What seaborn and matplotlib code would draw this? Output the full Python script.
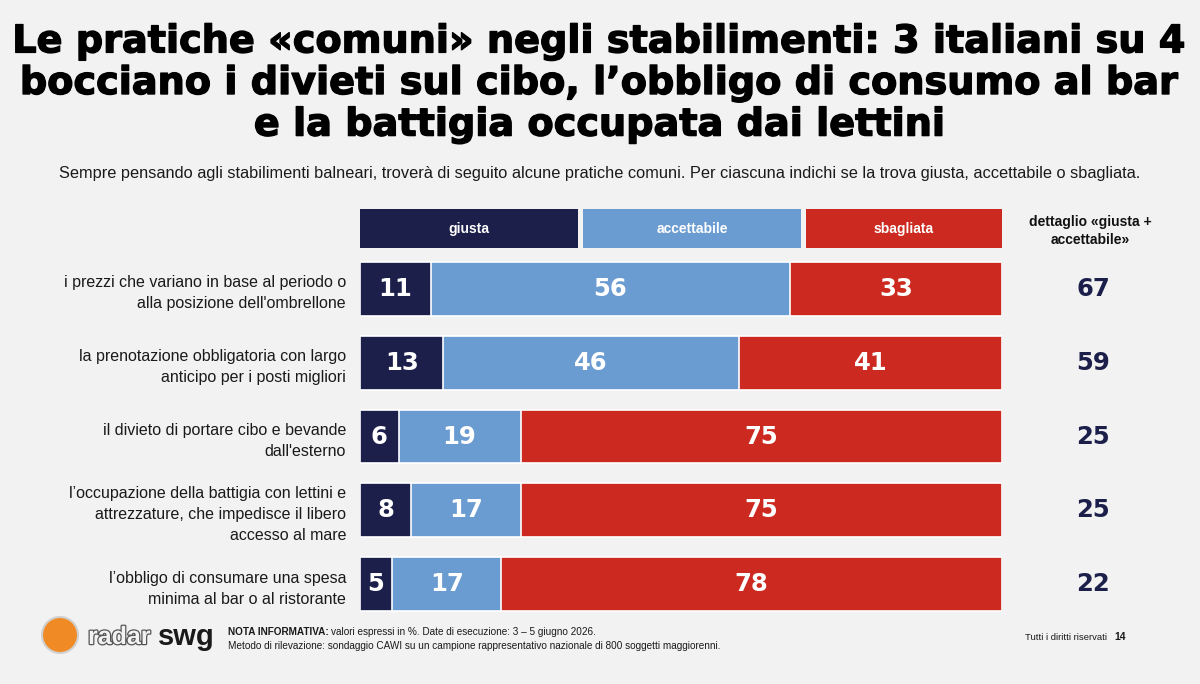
import matplotlib
matplotlib.use("Agg")
import matplotlib.pyplot as plt
import matplotlib.transforms as mtrans
import matplotlib.patheffects as pe
import seaborn as sns
import pandas as pd
from matplotlib.patches import Rectangle, Ellipse

categories = [
    "i prezzi che variano in base al periodo o\nalla posizione dell'ombrellone",
    "la prenotazione obbligatoria con largo\nanticipo per i posti migliori",
    "il divieto di portare cibo e bevande\ndall'esterno",
    "l\u2019occupazione della battigia con lettini e\nattrezzature, che impedisce il libero\naccesso al mare",
    "l\u2019obbligo di consumare una spesa\nminima al bar o al ristorante",
]
giusta = [11, 13, 6, 8, 5]
accettabile = [56, 46, 19, 17, 17]
sbagliata = [33, 41, 75, 75, 78]
dettaglio = [67, 59, 25, 25, 22]
series_names = ["giusta", "accettabile", "sbagliata"]

NAVY = "#1c1f4a"
BLUE = "#6a9bd1"
RED = "#cc2a20"
BG = "#f2f2f2"

sns.set_theme(style="white")
plt.rcParams["font.family"] = ["Liberation Sans", "DejaVu Sans"]

W, H = 1200, 684
fig = plt.figure(figsize=(W / 100, H / 100), dpi=100, facecolor=BG)

def fx(px):
    return px / W

def fy(py):
    return 1 - py / H

ax = fig.add_axes([fx(360), fy(621), fx(1002) - fx(360), (621 - 252) / H])
ax.set_facecolor(BG)

df = pd.DataFrame({
    "cat": categories,
    "giusta": giusta,
    "accettabile": accettabile,
    "sbagliata": sbagliata,
})
df["cum2"] = df["giusta"] + df["accettabile"]
df["cum3"] = df["cum2"] + df["sbagliata"]

bw = 0.73
sns.barplot(data=df, y="cat", x="cum3", color=RED, orient="h", width=bw,
            edgecolor="white", linewidth=1.2, saturation=1, ax=ax)
sns.barplot(data=df, y="cat", x="cum2", color=BLUE, orient="h", width=bw,
            edgecolor="white", linewidth=1.2, saturation=1, ax=ax)
sns.barplot(data=df, y="cat", x="giusta", color=NAVY, orient="h", width=bw,
            edgecolor="white", linewidth=1.2, saturation=1, ax=ax)

ax.set_xlim(0, 100)
ax.set_ylim(len(categories) - 0.5, -0.5)
for s in ax.spines.values():
    s.set_visible(False)
ax.set_xlabel("")
ax.set_ylabel("")
ax.set_xticks([])
ax.tick_params(axis="y", length=0, pad=10)
for lab in ax.get_yticklabels():
    lab.set_fontsize(11.5)
    lab.set_color("#1a1a1a")
    lab.set_multialignment("right")
    lab.set_linespacing(1.5)

# segment labels
for i in range(len(categories)):
    starts = [0, giusta[i], giusta[i] + accettabile[i]]
    vals = [giusta[i], accettabile[i], sbagliata[i]]
    for st, v in zip(starts, vals):
        ax.text(st + v / 2, i, f"{v}", ha="center", va="center", color="white",
                fontsize=17.5, fontweight="bold", family=["DejaVu Sans"])

# right column values
trans = mtrans.blended_transform_factory(fig.transFigure, ax.transData)
for i, d in enumerate(dettaglio):
    ax.text(fx(1093), i, f"{d}", transform=trans, ha="center", va="center",
            color=NAVY, fontsize=17.5, fontweight="bold", family=["DejaVu Sans"])

# legend boxes
boxes = [(360, 578, NAVY), (583, 801, BLUE), (806, 1002, RED)]
for (x0, x1, c), name in zip(boxes, series_names):
    fig.add_artist(Rectangle((fx(x0), fy(248)), fx(x1) - fx(x0), (248 - 209) / H,
                             transform=fig.transFigure, facecolor=c, edgecolor="none"))
    fig.text(fx((x0 + x1) / 2), fy(229), name, ha="center", va="center",
             color="white", fontsize=10, fontweight="bold")

fig.text(fx(1090), fy(231), "dettaglio \u00abgiusta +\naccettabile\u00bb", ha="center",
         va="center", fontsize=10, fontweight="bold", color="#111111", linespacing=1.3)

# title
fig.text(0.5, fy(84), "Le pratiche \u00abcomuni\u00bb negli stabilimenti: 3 italiani su 4\n"
         "bocciano i divieti sul cibo, l\u2019obbligo di consumo al bar\n"
         "e la battigia occupata dai lettini",
         ha="center", va="center", fontsize=27.5, fontweight="bold", color="black",
         family=["DejaVu Sans"], linespacing=1.2,
         path_effects=[pe.withStroke(linewidth=1.0, foreground="black")])

fig.text(0.5, fy(173), "Sempre pensando agli stabilimenti balneari, trover\u00e0 di seguito alcune pratiche comuni. "
         "Per ciascuna indichi se la trova giusta, accettabile o sbagliata.",
         ha="center", va="center", fontsize=11.8, color="#1a1a1a")

# footer logo
fig.add_artist(Ellipse((fx(60), fy(635)), 36 / W, 36 / H, transform=fig.transFigure,
                       facecolor="#f08a24", edgecolor="#d0d0d0", linewidth=1.5))
fig.text(fx(88), fy(637), "radar", ha="left", va="center", fontsize=18, color=BG,
         fontweight="bold",
         path_effects=[pe.withStroke(linewidth=1.8, foreground="#555555")])
fig.text(fx(158), fy(637), "swg", ha="left", va="center", fontsize=21, color="#1a1a1a",
         fontweight="bold")

fig.text(fx(228), fy(632), "NOTA INFORMATIVA:", ha="left", va="center", fontsize=7.2,
         fontweight="bold", color="#1a1a1a")
fig.text(fx(331), fy(632), "valori espressi in %. Date di esecuzione: 3 \u2013 5 giugno 2026.",
         ha="left", va="center", fontsize=7.2, color="#1a1a1a")
fig.text(fx(228), fy(646), "Metodo di rilevazione: sondaggio CAWI su un campione rappresentativo nazionale di 800 soggetti maggiorenni.",
         ha="left", va="center", fontsize=7.2, color="#1a1a1a")
fig.text(fx(1025), fy(637), "Tutti i diritti riservati", ha="left", va="center", fontsize=6.8, color="#1a1a1a")
fig.text(fx(1114), fy(637), "14", ha="left", va="center", fontsize=7.5, fontweight="bold", color="#1a1a1a")

fig.savefig("out.png", dpi=100, facecolor=BG)
